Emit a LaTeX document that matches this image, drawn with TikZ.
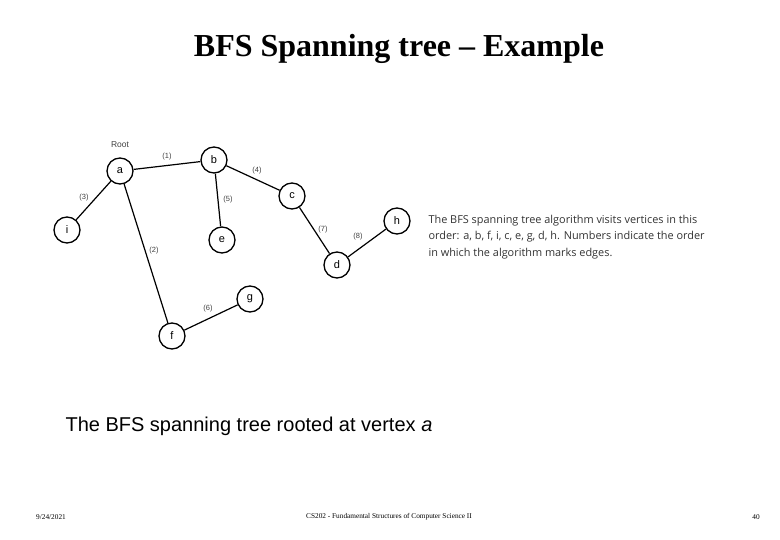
\documentclass[tikz,border=0pt]{standalone}
\usepackage{fontspec}
\setmainfont{Liberation Serif}
\setsansfont{Liberation Sans}
\newfontfamily\notefont{Open Sans}
\usetikzlibrary{positioning}

\begin{document}
\begin{tikzpicture}[x=1pt, y=-1pt,
  vtx/.style={draw, circle, line width=1.3pt, minimum size=26pt, inner sep=0pt, font=\sffamily\fontsize{11}{12}\selectfont},
  elab/.style={font=\sffamily\fontsize{7.5}{8}\selectfont, text=black!75, inner sep=1pt},
  tedge/.style={line width=1.2pt}
]
  \useasboundingbox (0,0) rectangle (780,540);
  \node[font=\bfseries\fontsize{32}{36}\selectfont] (title) at (399,49) {BFS Spanning tree -- Example};

  % vertices
  \node[vtx] (a) at (120,171) {a};
  \node[vtx] (b) at (214,160) {b};
  \node[vtx] (c) at (292,196) {c};
  \node[vtx] (h) at (397,221) {h};
  \node[vtx] (d) at (337,265) {d};
  \node[vtx] (e) at (222,240) {e};
  \node[vtx] (i) at (67,230) {i};
  \node[vtx] (g) at (250,299) {g};
  \node[vtx] (f) at (172,336) {f};
  \node[elab, font=\sffamily\fontsize{8.5}{9}\selectfont] (root) at (120,145) {Root};

  % tree edges
  \draw[tedge] (a) -- (b);
  \draw[tedge] (a) -- (f);
  \draw[tedge] (a) -- (i);
  \draw[tedge] (b) -- (c);
  \draw[tedge] (b) -- (e);
  \draw[tedge] (f) -- (g);
  \draw[tedge] (c) -- (d);
  \draw[tedge] (d) -- (h);

  % order of marking
  \node[elab] (l1) at (167,157) {(1)};
  \node[elab] (l2) at (154,251) {(2)};
  \node[elab] (l3) at (84,198) {(3)};
  \node[elab] (l4) at (257,171) {(4)};
  \node[elab] (l5) at (228,200) {(5)};
  \node[elab] (l6) at (208,309) {(6)};
  \node[elab] (l7) at (323,230) {(7)};
  \node[elab] (l8) at (358,237) {(8)};

  \node[anchor=west, align=left, font=\notefont\fontsize{10.9}{16.5}\selectfont, text=black!80] (note) at (425,237)
    {The BFS spanning tree algorithm visits vertices in this\\order: a, b, f, i, c, e, g, d, h. Numbers indicate the order\\in which the algorithm marks edges.};

  \node[anchor=west, font=\sffamily\fontsize{20}{24}\selectfont] (caption) at (62,426)
    {The BFS spanning tree rooted at vertex \textit{a}};

  % footer
  \node[font=\fontsize{7.3}{8}\selectfont] (date) at (51,517) {9/24/2021};
  \node[font=\fontsize{7.3}{8}\selectfont] (course) at (389,517) {CS202 - Fundamental Structures of Computer Science II};
  \node[font=\fontsize{7.3}{8}\selectfont] (page) at (756,517) {40};
\end{tikzpicture}
\end{document}
